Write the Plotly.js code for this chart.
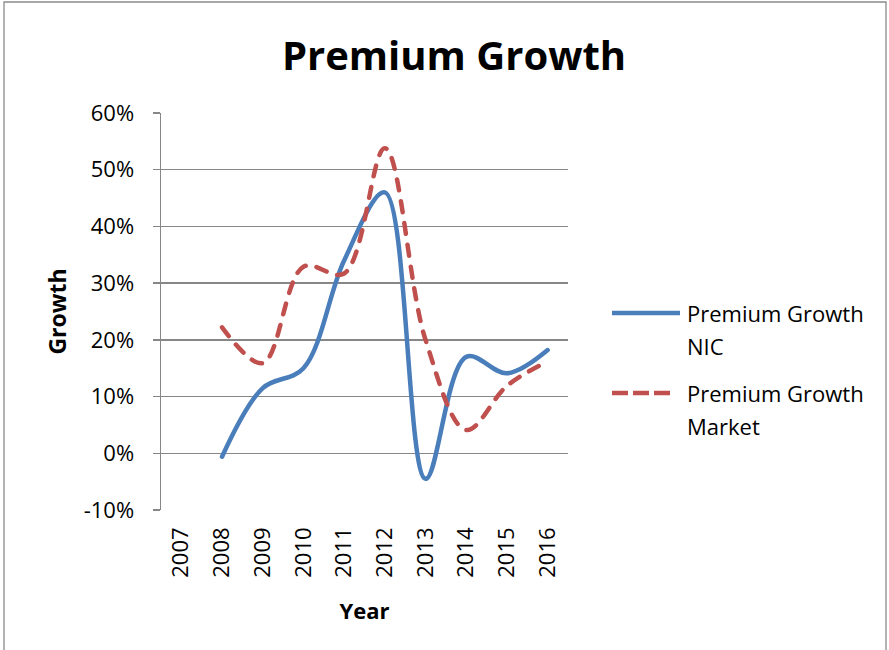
<!DOCTYPE html>
<html>
<head>
<meta charset="utf-8">
<script src="https://cdn.plot.ly/plotly-3.0.1.min.js"></script>
<style>
html,body{margin:0;padding:0;background:#fff;}
#chart{width:889px;height:650px;}
.scatterlayer path.js-line{stroke-linecap:round;stroke-linejoin:round;}
</style>
</head>
<body>
<div id="chart"></div>
<script>
// ---- data ----
const years = ["2007","2008","2009","2010","2011","2012","2013","2014","2015","2016"];
const nicGrowth = [null, -0.006, 0.115, 0.150, 0.340, 0.460, -0.045, 0.170, 0.141, 0.182];
const marketGrowth = [null, 0.222, 0.159, 0.329, 0.317, 0.538, 0.200, 0.041, 0.119, 0.162];
const yTickVals = [-0.1, 0, 0.1, 0.2, 0.3, 0.4, 0.5, 0.6];
const yTickText = ["-10%", "0%", "10%", "20%", "30%", "40%", "50%", "60%"];
const seriesNames = ["Premium Growth NIC", "Premium Growth Market"];

// ---- layout helpers ----
const W = 889, H = 650;
const M = {l: 161, r: 321, t: 113, b: 140};
const PW = W - M.l - M.r, PH = H - M.t - M.b;
const px = x => (x - M.l) / PW;
const py = y => (H - M.b - y) / PH;

const BLUE = "#4A7EBB", RED = "#C0504D", GRID = "#878787";
const FONT = "'Open Sans', 'Noto Sans', sans-serif";

const traces = [
  {x: years, y: nicGrowth, name: seriesNames[0], type: "scatter", mode: "lines",
   line: {color: BLUE, width: 4.5, shape: "spline", smoothing: 1}, connectgaps: false},
  {x: years, y: marketGrowth, name: seriesNames[1], type: "scatter", mode: "lines",
   line: {color: RED, width: 4.5, shape: "spline", smoothing: 1, dash: "11px,11px"}, connectgaps: false}
];

const boundaries = years.map((_, i) => i + 0.5);

const layout = {
  width: W, height: H,
  margin: M,
  paper_bgcolor: "#fff", plot_bgcolor: "#fff",
  showlegend: false,
  font: {family: FONT, color: "#000"},
  title: {text: "<b>Premium Growth</b>", font: {family: FONT, size: 40, color: "#000"},
          x: 454 / W, xref: "container", xanchor: "center",
          y: 1 - 56 / H, yref: "container", yanchor: "middle"},
  xaxis: {
    type: "category", categoryorder: "array", categoryarray: years,
    range: [-0.5, years.length - 0.5],
    showgrid: false, showline: false, zeroline: false, ticks: "",
    tickangle: -90, tickfont: {size: 22, family: FONT, color: "#000"},
    ticklabelstandoff: 12,
    title: {text: "<b>Year</b>", font: {size: 22, family: FONT, color: "#000"}, standoff: 26},
    automargin: false
  },
  xaxis2: {
    overlaying: "x", anchor: "free", position: 1 / 7,
    type: "linear", range: [-0.5, years.length - 0.5],
    tickmode: "array", tickvals: boundaries,
    ticks: "outside", ticklen: 8, tickwidth: 1.3, tickcolor: GRID,
    showline: true, linecolor: GRID, linewidth: 1.5,
    showgrid: false, zeroline: false, showticklabels: false
  },
  yaxis: {
    range: [-0.1, 0.6], tickmode: "array", tickvals: yTickVals, ticktext: yTickText,
    showgrid: true, gridcolor: GRID, gridwidth: 1.3,
    showline: true, linecolor: GRID, linewidth: 1.5,
    ticks: "outside", ticklen: 7, tickwidth: 1.3, tickcolor: GRID,
    zeroline: false,
    tickfont: {size: 22, family: FONT, color: "#000"},
    ticklabelstandoff: 14,
    title: {text: "<b>Growth</b>", font: {size: 23, family: FONT, color: "#000"}, standoff: 10},
    automargin: false
  },
  shapes: [
    // chart border
    {type: "rect", xref: "paper", yref: "paper", x0: px(4), x1: px(886), y0: py(2), y1: py(700),
     line: {color: "#8a8a8a", width: 1.3}, fillcolor: "rgba(0,0,0,0)", layer: "below"},
    // legend samples
    {type: "line", xref: "paper", yref: "paper", x0: px(612), x1: px(680), y0: py(313), y1: py(313),
     line: {color: BLUE, width: 4.5}},
    {type: "line", xref: "paper", yref: "paper", x0: px(612), x1: px(671), y0: py(393), y1: py(393),
     line: {color: RED, width: 4.5, dash: "16px,5px"}}
  ],
  annotations: [
    {text: "Premium Growth", xref: "paper", yref: "paper", x: px(685), y: py(313), xanchor: "left", yanchor: "middle",
     showarrow: false, font: {size: 22, family: FONT, color: "#000"}},
    {text: "NIC", xref: "paper", yref: "paper", x: px(685), y: py(346), xanchor: "left", yanchor: "middle",
     showarrow: false, font: {size: 22, family: FONT, color: "#000"}},
    {text: "Premium Growth", xref: "paper", yref: "paper", x: px(685), y: py(393), xanchor: "left", yanchor: "middle",
     showarrow: false, font: {size: 22, family: FONT, color: "#000"}},
    {text: "Market", xref: "paper", yref: "paper", x: px(685), y: py(426), xanchor: "left", yanchor: "middle",
     showarrow: false, font: {size: 22, family: FONT, color: "#000"}}
  ]
};

Plotly.newPlot("chart", traces, layout, {displayModeBar: false, staticPlot: true});
</script>
</body>
</html>
